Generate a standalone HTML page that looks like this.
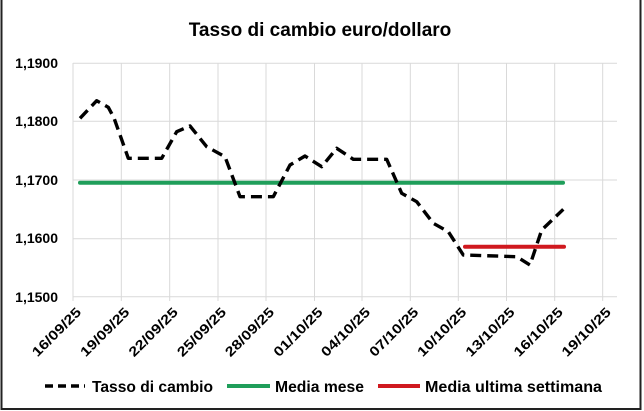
<!DOCTYPE html>
<html><head><meta charset="utf-8"><style>
html,body{margin:0;padding:0;background:#fff;}
svg{display:block;}
text{font-family:"Liberation Sans",sans-serif;font-weight:bold;fill:#000;}
</style></head><body>
<svg width="644" height="411" viewBox="0 0 644 411" xmlns="http://www.w3.org/2000/svg">
<rect x="0" y="0" width="644" height="411" fill="#fff"/>
<rect x="1.5" y="-2" width="639" height="411" fill="none" stroke="#222" stroke-width="2"/>
<text x="320" y="36" font-size="19" text-anchor="middle">Tasso di cambio euro/dollaro</text>
<g stroke="#d9d9d9" stroke-width="1">
<line x1="73" y1="63.3" x2="617" y2="63.3"/>
<line x1="73" y1="121.3" x2="617" y2="121.3"/>
<line x1="73" y1="180" x2="617" y2="180"/>
<line x1="73" y1="238.7" x2="617" y2="238.7"/>
<line x1="73" y1="296.7" x2="617" y2="296.7"/>
<line x1="73" y1="63" x2="73" y2="301"/>
<line x1="121.3" y1="63" x2="121.3" y2="301"/>
<line x1="169.7" y1="63" x2="169.7" y2="301"/>
<line x1="218" y1="63" x2="218" y2="301"/>
<line x1="266" y1="63" x2="266" y2="301"/>
<line x1="314.5" y1="63" x2="314.5" y2="301"/>
<line x1="362" y1="63" x2="362" y2="301"/>
<line x1="410.3" y1="63" x2="410.3" y2="301"/>
<line x1="458.3" y1="63" x2="458.3" y2="301"/>
<line x1="506.5" y1="63" x2="506.5" y2="301"/>
<line x1="554.7" y1="63" x2="554.7" y2="301"/>
<line x1="602.7" y1="63" x2="602.7" y2="301"/>
</g>
<g font-size="14" text-anchor="end">
<text x="58" y="68">1,1900</text>
<text x="58" y="126">1,1800</text>
<text x="58" y="185">1,1700</text>
<text x="58" y="243">1,1600</text>
<text x="58" y="302">1,1500</text>
</g>
<g font-size="13.5" text-anchor="end">
<text transform="translate(82,313) rotate(-45)" textLength="63" lengthAdjust="spacingAndGlyphs">16/09/25</text>
<text transform="translate(130.3,313) rotate(-45)" textLength="63" lengthAdjust="spacingAndGlyphs">19/09/25</text>
<text transform="translate(178.7,313) rotate(-45)" textLength="63" lengthAdjust="spacingAndGlyphs">22/09/25</text>
<text transform="translate(227,313) rotate(-45)" textLength="63" lengthAdjust="spacingAndGlyphs">25/09/25</text>
<text transform="translate(275,313) rotate(-45)" textLength="63" lengthAdjust="spacingAndGlyphs">28/09/25</text>
<text transform="translate(323.5,313) rotate(-45)" textLength="63" lengthAdjust="spacingAndGlyphs">01/10/25</text>
<text transform="translate(371,313) rotate(-45)" textLength="63" lengthAdjust="spacingAndGlyphs">04/10/25</text>
<text transform="translate(419.3,313) rotate(-45)" textLength="63" lengthAdjust="spacingAndGlyphs">07/10/25</text>
<text transform="translate(467.3,313) rotate(-45)" textLength="63" lengthAdjust="spacingAndGlyphs">10/10/25</text>
<text transform="translate(515.5,313) rotate(-45)" textLength="63" lengthAdjust="spacingAndGlyphs">13/10/25</text>
<text transform="translate(563.7,313) rotate(-45)" textLength="63" lengthAdjust="spacingAndGlyphs">16/10/25</text>
<text transform="translate(611.7,313) rotate(-45)" textLength="63" lengthAdjust="spacingAndGlyphs">19/10/25</text>
</g>
<line x1="80" y1="182.7" x2="563" y2="182.7" stroke="#1f9e5a" stroke-width="4" stroke-linecap="round"/>
<line x1="465" y1="246.7" x2="564" y2="246.7" stroke="#d0191f" stroke-width="4" stroke-linecap="round"/>
<polyline fill="none" stroke="#000" stroke-width="3.4" stroke-dasharray="11,6" stroke-linejoin="round"
points="80,118.3 96.7,100.7 108.3,107.3 114,118 128.3,158.3 161.7,158.3 176.7,131.7 190,126 206.7,146.7 225,156.7 240,196.7 273.3,196.7 290,165 305,156 321.7,166.7 336.7,148.3 353.3,159.3 386.7,159.3 401.7,193.3 416.7,201.7 433.3,223.3 448.3,231.7 463.3,255 516.7,256.7 530,265 541.7,230 563.3,209.3"/>
<g font-size="16">
<line x1="45" y1="386" x2="85" y2="386" stroke="#000" stroke-width="3.5" stroke-dasharray="8,5"/>
<text x="92" y="392" textLength="121" lengthAdjust="spacingAndGlyphs">Tasso di cambio</text>
<line x1="227" y1="386" x2="270" y2="386" stroke="#1f9e5a" stroke-width="4"/>
<text x="275" y="392" textLength="89" lengthAdjust="spacingAndGlyphs">Media mese</text>
<line x1="378" y1="386" x2="420" y2="386" stroke="#d0191f" stroke-width="4"/>
<text x="425" y="392" textLength="177" lengthAdjust="spacingAndGlyphs">Media ultima settimana</text>
</g>
</svg>
</body></html>
